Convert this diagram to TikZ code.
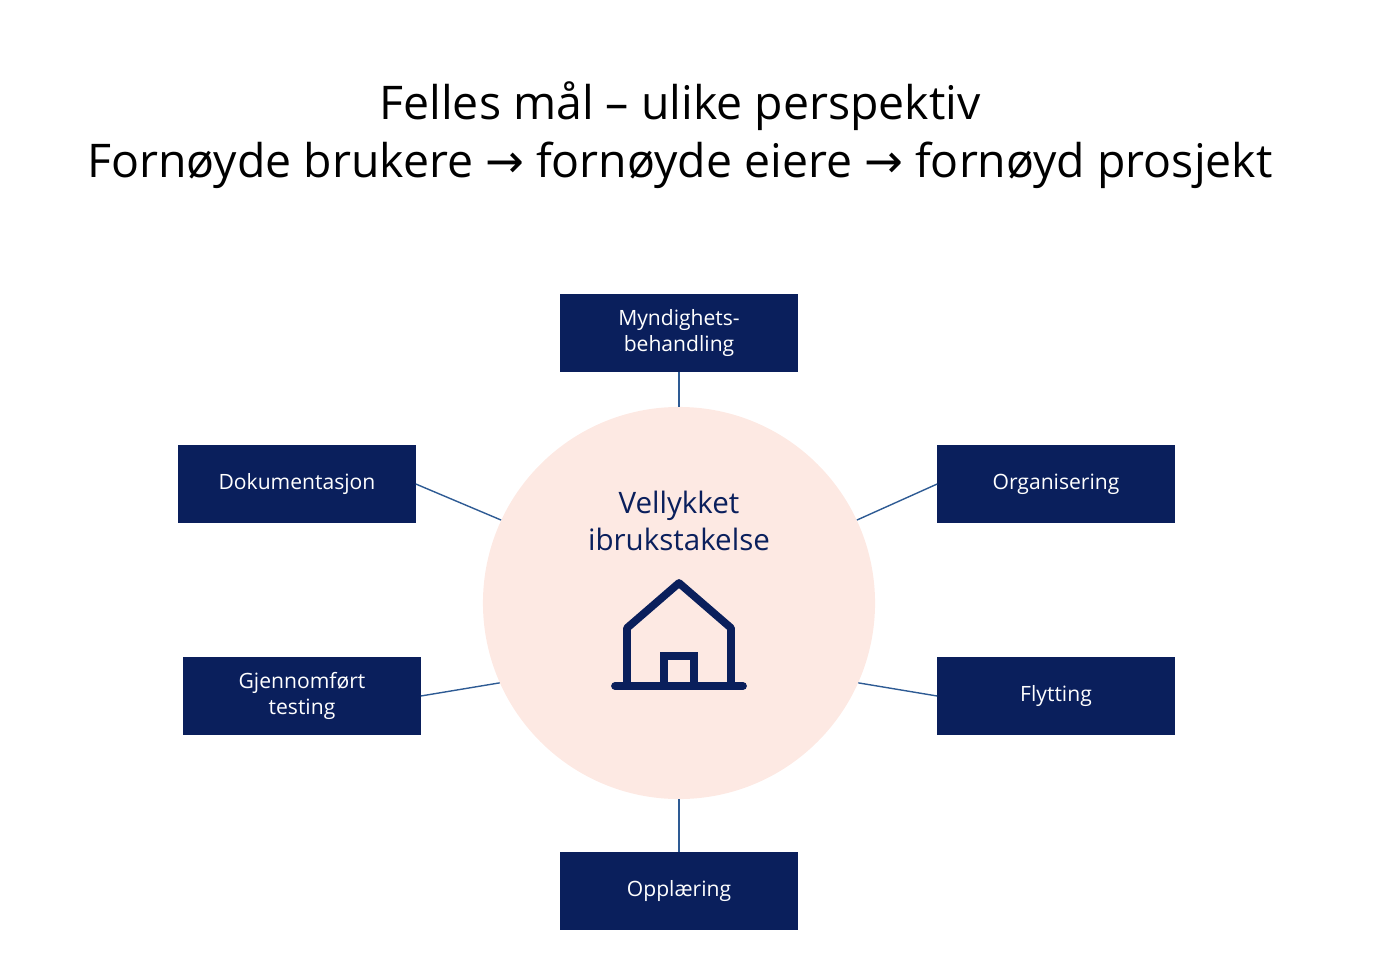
\documentclass[tikz,border=0pt]{standalone}
\usepackage{fontspec}
\setmainfont{Open Sans}
\newfontfamily\symfont{DejaVu Sans}
\definecolor{marine}{HTML}{0A1F5C}
\definecolor{rosa}{HTML}{FDE9E3}
\definecolor{strek}{HTML}{2E5B94}
\tikzset{
  felt/.style={fill=marine,text=white,minimum width=5.925cm,minimum height=1.925cm,
    align=center,font=\fontsize{15}{19}\selectfont,inner sep=0pt},
  kobling/.style={strek,line width=1pt}
}
\begin{document}
\begin{tikzpicture}[x=0.025cm,y=-0.025cm]
  \useasboundingbox (0,0) rectangle (1382,960);
  \node[align=center,font=\fontsize{33}{41}\selectfont\addfontfeatures{FakeBold=0}] (tittel) at (680,135)
    {Felles mål – ulike perspektiv\\Fornøyde brukere {\symfont→} fornøyde eiere {\symfont→} fornøyd prosjekt};
  % sentrum
  \node[circle,fill=rosa,minimum size=9.8cm,inner sep=0pt] (sirkel) at (679,603) {};
  \node[text=marine,align=center,font=\fontsize{21}{26}\selectfont] (maal) at (679,521) {Vellykket\\ibrukstakelse};
  % hus
  \draw[marine,line width=5.5pt,line join=round,line cap=round]
    (627,686) -- (627,628) -- (679,583) -- (731,628) -- (731,686);
  \draw[marine,line width=5.5pt,line cap=round] (615,686) -- (743,686);
  \draw[marine,line width=5pt] (664,686) -- (664,656) -- (694,656) -- (694,686);
  % felt
  \node[felt] (myndighet) at (679,333) {Myndighets-\\behandling};
  \node[felt] (dokument) at (297,484) {Dokumentasjon};
  \node[felt] (organisering) at (1056,484) {Organisering};
  \node[felt] (testing) at (302,696) {Gjennomført\\testing};
  \node[felt] (flytting) at (1056,696) {Flytting};
  \node[felt] (opplaering) at (679,891) {Opplæring};
  % koblinger
  \draw[kobling] (myndighet.south) -- (sirkel.north);
  \draw[kobling] (opplaering.north) -- (sirkel.south);
  \draw[kobling] (dokument.east) -- (sirkel.155);
  \draw[kobling] (testing.east) -- (sirkel.204);
  \draw[kobling] (organisering.west) -- (sirkel.25);
  \draw[kobling] (flytting.west) -- (sirkel.-24);
\end{tikzpicture}
\end{document}
